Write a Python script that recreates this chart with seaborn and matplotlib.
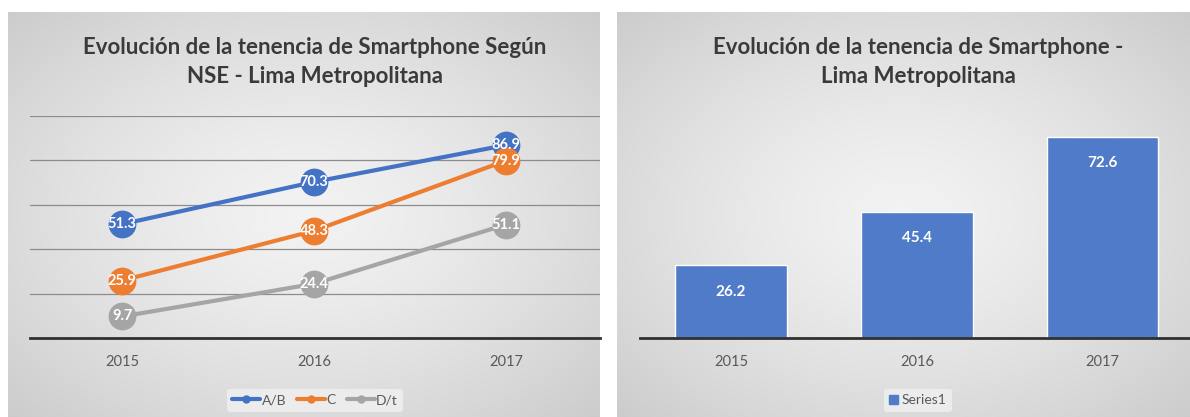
import matplotlib
matplotlib.use('Agg')
import matplotlib.pyplot as plt
import seaborn as sns
import pandas as pd
import numpy as np
from matplotlib.lines import Line2D
from matplotlib.patches import Patch

# datos
years = ['2015', '2016', '2017']
ab_vals = [51.3, 70.3, 86.9]
c_vals = [25.9, 48.3, 79.9]
dt_vals = [9.7, 24.4, 51.1]
series_names = ['A/B', 'C', 'D/t']
total_vals = [26.2, 45.4, 72.6]

title_left = 'Evolución de la tenencia de Smartphone Según\nNSE - Lima Metropolitana'
title_right = 'Evolución de la tenencia de Smartphone -\nLima Metropolitana'

colores = {'A/B': '#4472C4', 'C': '#ED7D31', 'D/t': '#A5A5A5'}
bar_color = '#4F7BC8'
txt_color = '#3a3a3a'

sns.set_style('white')
plt.rcParams['font.family'] = ['Lato', 'DejaVu Sans']

df_lineas = pd.DataFrame({
    'Año': years * 3,
    'Valor': ab_vals + c_vals + dt_vals,
    'NSE': [s for s in series_names for _ in years],
})
df_barras = pd.DataFrame({'Año': years, 'Valor': total_vals})

W, H = 1190, 417
fig = plt.figure(figsize=(W / 100, H / 100), dpi=100)


def px_box(x0, y0, x1, y1):
    # caja en pixeles (arriba-izquierda) -> fracciones de figura
    return [x0 / W, 1 - y1 / H, (x1 - x0) / W, (y1 - y0) / H]


def fondo(rect):
    ax = fig.add_axes(rect, zorder=0)
    xx, yy = np.meshgrid(np.linspace(-1, 1, 300), np.linspace(-1, 1, 200))
    r = np.sqrt(xx ** 2 + yy ** 2) / np.sqrt(2)
    v = 0.95 - 0.15 * r ** 1.4
    ax.imshow(np.dstack([v, v, v]), aspect='auto', extent=(0, 1, 0, 1))
    ax.set_axis_off()
    return ax


fondo(px_box(8, 12, 600, 417))
fondo(px_box(617, 12, 1190, 417))

# ============================
# 1. Grafico de lineas por NSE
# ============================
ax1 = fig.add_axes(px_box(30, 116, 600, 338), zorder=2)
ax1.patch.set_alpha(0)
sns.lineplot(data=df_lineas, x='Año', y='Valor', hue='NSE', hue_order=series_names,
             palette=colores, marker='o', markersize=20, markeredgewidth=0,
             linewidth=3, legend=False, ax=ax1, zorder=3)

for nombre, vals in zip(series_names, [ab_vals, c_vals, dt_vals]):
    for i, v in enumerate(vals):
        ax1.text(i, v, f'{v:.1f}', color='white', fontsize=10.5, ha='center',
                 va='center', zorder=5, fontweight='bold')

ax1.set_xlim(-0.48, 2.49)
ax1.set_ylim(0, 100)
ax1.set_yticks([20, 40, 60, 80, 100])
ax1.yaxis.grid(True, color='#8c8c8c', linewidth=0.9)
ax1.set_yticklabels([])
ax1.tick_params(axis='y', length=0)
ax1.tick_params(axis='x', length=0, labelsize=10.5, colors='#595959', pad=12)
ax1.set_xlabel('')
ax1.set_ylabel('')
for s in ['top', 'right', 'left']:
    ax1.spines[s].set_visible(False)
ax1.spines['bottom'].set_color('#303030')
ax1.spines['bottom'].set_linewidth(2)

handles = [Line2D([0], [0], color=colores[s], lw=3, marker='o', markersize=5) for s in series_names]
ax1.legend(handles, series_names, loc='center', bbox_to_anchor=(0.5, -0.28),
           ncol=3, frameon=True, facecolor='#ececec', edgecolor='none',
           fontsize=10, handlelength=2.0, handletextpad=0.1, columnspacing=0.8,
           labelcolor='#595959', framealpha=1)

fig.text(315 / W, 1 - 62 / H, title_left, ha='center', va='center', fontsize=16,
         fontweight='bold', color=txt_color, linespacing=1.5)

# ============================
# 2. Grafico de barras total
# ============================
ax2 = fig.add_axes(px_box(640, 116, 1190, 338), zorder=2)
ax2.patch.set_alpha(0)
sns.barplot(data=df_barras, x='Año', y='Valor', color=bar_color, width=0.6,
            saturation=1, ax=ax2)
for container in ax2.containers:
    ax2.bar_label(container, fmt='%.1f', padding=-24, color='white',
                  fontsize=11, fontweight='bold')

ax2.set_xlim(-0.49, 2.47)
ax2.set_ylim(0, 80)
ax2.set_yticks([])
ax2.tick_params(axis='x', length=0, labelsize=10.5, colors='#595959', pad=12)
ax2.set_xlabel('')
ax2.set_ylabel('')
for s in ['top', 'right', 'left']:
    ax2.spines[s].set_visible(False)
ax2.spines['bottom'].set_color('#303030')
ax2.spines['bottom'].set_linewidth(2)

ax2.legend([Patch(color=bar_color)], ['Series1'], loc='center',
           bbox_to_anchor=((918 - 640) / 550, -0.28), frameon=True,
           facecolor='#ececec', edgecolor='none', fontsize=10,
           handlelength=0.6, handleheight=0.6, handletextpad=0.3,
           labelcolor='#595959', framealpha=1)

fig.text(918 / W, 1 - 62 / H, title_right, ha='center', va='center', fontsize=16,
         fontweight='bold', color=txt_color, linespacing=1.5)

fig.savefig('out.png', dpi=100)
